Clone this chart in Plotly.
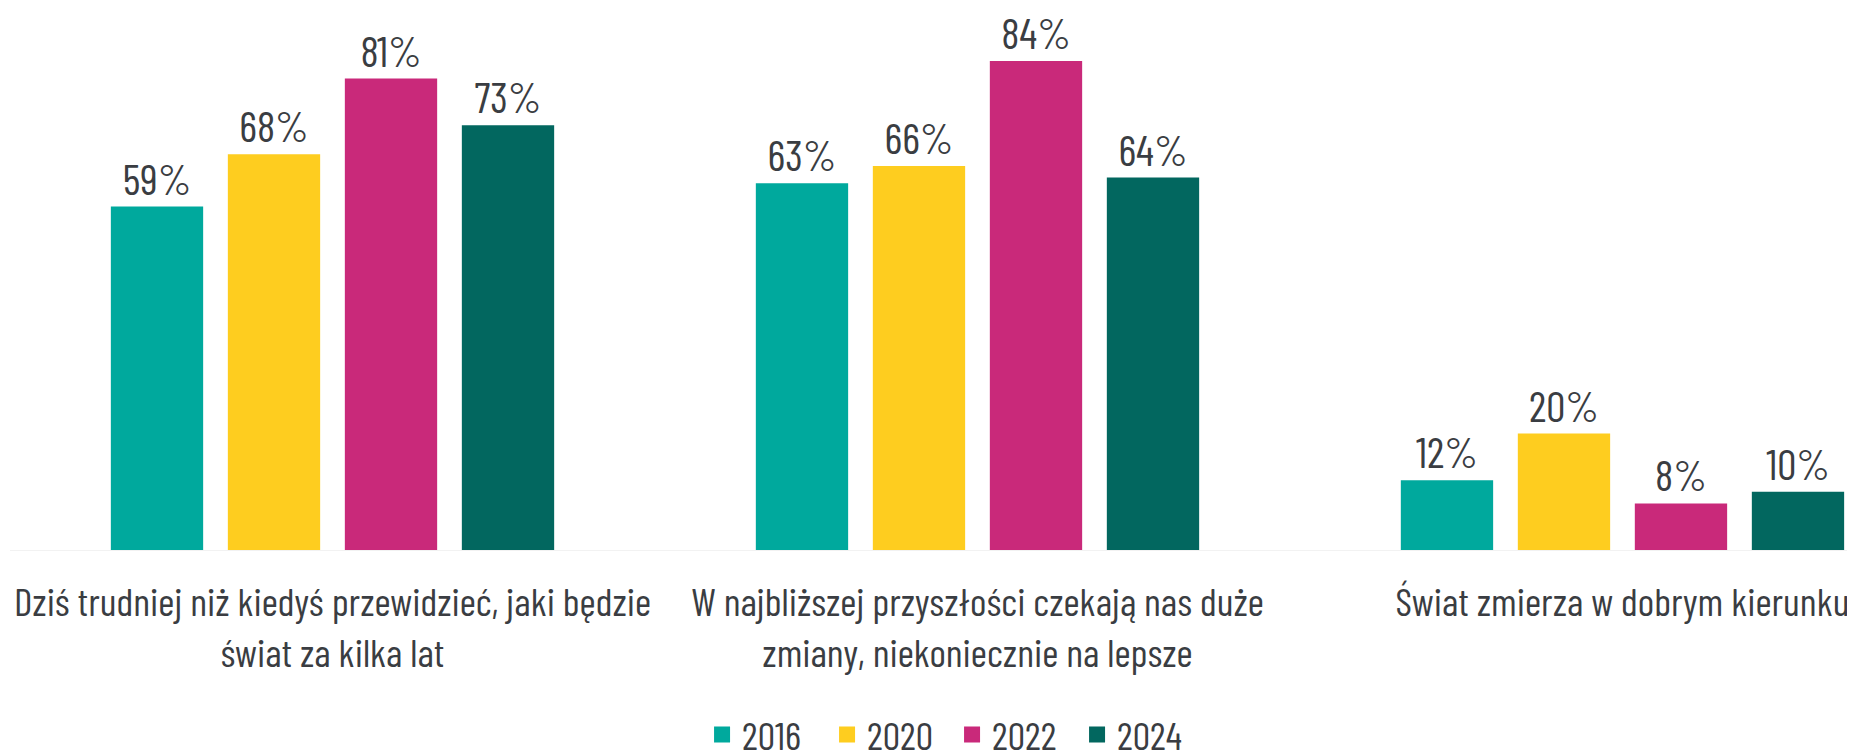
import plotly.graph_objects as go

categories = [
    "Dziś trudniej niż kiedyś przewidzieć, jaki będzie<br>świat za kilka lat",
    "W najbliższej przyszłości czekają nas duże<br>zmiany, niekoniecznie na lepsze",
    "Świat zmierza w dobrym kierunku",
]
years = ["2016", "2020", "2022", "2024"]
values_2016 = [59, 63, 12]
values_2020 = [68, 66, 20]
values_2022 = [81, 84, 8]
values_2024 = [73, 64, 10]
series_values = [values_2016, values_2020, values_2022, values_2024]
colors = ["#00A99D", "#FECD1F", "#C9297A", "#02675F"]

FONT = "Barlow Condensed, Roboto Condensed, sans-serif"
TEXT_COLOR = "#3A3D42"

fig = go.Figure()
for year, vals, col in zip(years, series_values, colors):
    fig.add_trace(go.Bar(
        x=categories, y=vals, name=year,
        marker=dict(color=col, line=dict(width=0)),
        text=[f"{v}%" for v in vals],
        textposition="outside",
        textfont=dict(family=FONT, size=43, color=TEXT_COLOR),
        cliponaxis=False,
        showlegend=False,
        legendgroup=year,
    ))
# legend entries (square swatches)
for year, col in zip(years, colors):
    fig.add_trace(go.Scatter(
        x=[None], y=[None], mode="markers", name=year, legendgroup=year,
        marker=dict(symbol="square", size=22, color=col),
        showlegend=True,
    ))

fig.update_layout(
    width=1855, height=754,
    margin=dict(l=2, r=8, t=2, b=212, autoexpand=False),
    barmode="group",
    bargap=0.2744,
    bargroupgap=0.211,
    plot_bgcolor="white",
    paper_bgcolor="white",
    font=dict(family=FONT, color=TEXT_COLOR),
    showlegend=True,
    legend=dict(
        orientation="h",
        x=0.5106, xanchor="center",
        y=-0.342, yanchor="middle",
        font=dict(family=FONT, size=39, color=TEXT_COLOR),
        traceorder="normal",
        entrywidth=80, entrywidthmode="pixels",
    ),
)
fig.update_xaxes(
    type="category",
    range=[-0.5, 2.3605],
    showgrid=False,
    showline=True, linecolor="#F2F2F2", linewidth=1,
    ticks="", ticklabelstandoff=17, tickangle=0, automargin=False,
    tickfont=dict(family=FONT, size=39.6, color=TEXT_COLOR),
)
fig.update_yaxes(
    range=[0, 540 / 5.82],
    visible=False,
    showgrid=False,
    zeroline=False,
)

fig.write_html("out.html")
